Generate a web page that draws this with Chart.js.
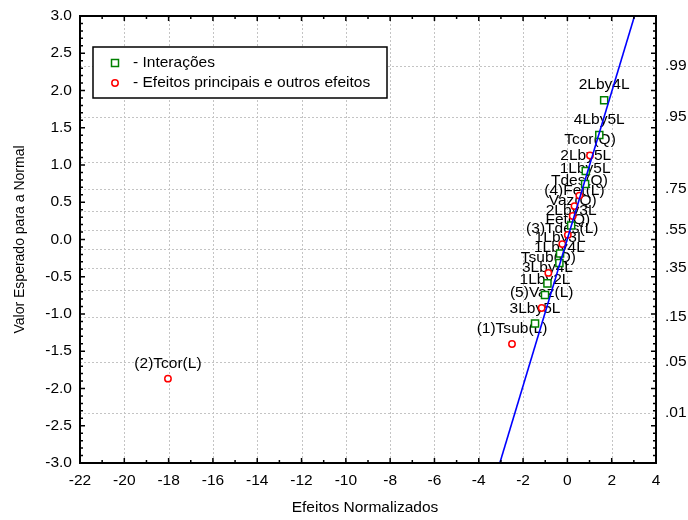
<!DOCTYPE html>
<html>
<head>
<meta charset="utf-8">
<script src="https://cdn.jsdelivr.net/npm/chart.js@4.4.1/dist/chart.umd.min.js"></script>
<style>
  html, body { margin: 0; padding: 0; background: #fff; }
  #wrap { width: 688px; height: 520px; }
</style>
</head>
<body>
<div id="wrap"><canvas id="c" width="688" height="520"></canvas></div>
<script>
// Interaction effects (green squares): standardized effect vs expected normal value
const interLabels = ['2Lby4L', '4Lby5L', '2Lby5L', '1Lby5L', '2Lby3L', '1Lby3L', '1Lby4L', '3Lby4L', '1Lby2L', '3Lby5L'];
const interX = [1.66, 1.44, 0.83, 0.80, 0.17, -0.33, -0.36, -0.90, -1.01, -1.46];
const interY = [1.868, 1.403, 0.919, 0.744, 0.187, -0.187, -0.315, -0.589, -0.744, -1.128];

// Main and other effects (red circles)
const mainLabels = ['Tcor(Q)', 'Tdes(Q)', '(4)Fet(L)', 'Vaz(Q)', 'Fet(Q)', '(3)Tdes(L)', 'Tsub(Q)', '(5)Vaz(L)', '(1)Tsub(L)', '(2)Tcor(L)'];
const mainX = [1.02, 0.54, 0.32, 0.24, 0.02, -0.23, -0.86, -1.16, -2.50, -18.03];
const mainY = [1.128, 0.589, 0.448, 0.315, 0.062, -0.062, -0.448, -0.919, -1.403, -1.868];

// Reference line (expected normal vs effect)
const refLineX = [-3.05, 3.03];
const refLineY = [-3.0, 3.0];

// Axis ranges and tick values
const xTicks = [-22, -20, -18, -16, -14, -12, -10, -8, -6, -4, -2, 0, 2, 4];
const yTicks = [-3.0, -2.5, -2.0, -1.5, -1.0, -0.5, 0.0, 0.5, 1.0, 1.5, 2.0, 2.5, 3.0];
// Cumulative probability levels on the right axis and their normal quantiles
const probLevels = ['.01', '.05', '.15', '.25', '.35', '.45', '.55', '.65', '.75', '.85', '.95', '.99'];
const probZ = [-2.3263, -1.6449, -1.0364, -0.6745, -0.3853, -0.1257, 0.1257, 0.3853, 0.6745, 1.0364, 1.6449, 2.3263];
const probShown = ['.01', '.05', '.15', '.35', '.55', '.75', '.95', '.99'];

const legendItems = ['- Interações', '- Efeitos principais e outros efeitos'];
const xTitle = 'Efeitos Normalizados';
const yTitle = 'Valor Esperado para a Normal';

const FAMILY = '"Liberation Sans", Arial, Helvetica, sans-serif';
const FONT_PX = 14.5;
const STRETCH = 1.07;
const FONT = FONT_PX + 'px ' + FAMILY;
const GREEN = '#008000', RED = '#ff0000', BLUE = '#0000ff';

function text(ctx, s, x, y, align) {
  ctx.save();
  ctx.translate(x, y);
  ctx.scale(STRETCH, 1);
  ctx.font = FONT;
  ctx.fillStyle = '#000';
  ctx.textAlign = align;
  ctx.textBaseline = 'middle';
  ctx.fillText(s, 0, 0);
  ctx.restore();
}

const toPts = (xs, ys) => xs.map((v, i) => ({ x: v, y: ys[i] }));

// Grid, point labels (under the marks)
const underlay = {
  id: 'underlay',
  beforeDatasetsDraw(chart) {
    const { ctx, chartArea: a, scales: { x, y } } = chart;
    ctx.save();
    ctx.strokeStyle = '#c4c4c4';
    ctx.lineWidth = 1;
    ctx.setLineDash([2, 2]);
    xTicks.forEach(v => {
      const px = Math.round(x.getPixelForValue(v)) + 0.5;
      ctx.beginPath(); ctx.moveTo(px, a.top); ctx.lineTo(px, a.bottom); ctx.stroke();
    });
    probZ.forEach(z => {
      const py = Math.round(y.getPixelForValue(z)) + 0.5;
      ctx.beginPath(); ctx.moveTo(a.left, py); ctx.lineTo(a.right, py); ctx.stroke();
    });
    ctx.restore();

    const lab = (ls, xs, ys) => ls.forEach((s, i) => {
      text(ctx, s, x.getPixelForValue(xs[i]), y.getPixelForValue(ys[i]) - 15, 'center');
    });
    lab(interLabels, interX, interY);
    lab(mainLabels, mainX, mainY);
  }
};

// Frame, ticks, tick labels, titles, legend
const overlay = {
  id: 'overlay',
  afterDraw(chart) {
    const { ctx, chartArea: a, scales: { x, y } } = chart;
    ctx.save();
    ctx.strokeStyle = '#000';
    ctx.lineWidth = 1.5;
    // minor/major ticks along x (inside, bottom and top)
    for (let v = -22; v <= 4; v += 1) {
      const px = x.getPixelForValue(v);
      const len = (v % 2 === 0) ? 5 : 3;
      ctx.beginPath();
      ctx.moveTo(px, a.bottom); ctx.lineTo(px, a.bottom - len);
      ctx.moveTo(px, a.top); ctx.lineTo(px, a.top + len);
      ctx.stroke();
    }
    // minor/major ticks along y (inside, left and right)
    for (let k = -30; k <= 30; k += 1) {
      const py = y.getPixelForValue(k / 10);
      const len = (k % 5 === 0) ? 5 : 3;
      ctx.beginPath();
      ctx.moveTo(a.left, py); ctx.lineTo(a.left + len, py);
      ctx.moveTo(a.right, py); ctx.lineTo(a.right - len, py);
      ctx.stroke();
    }
    // frame
    ctx.lineWidth = 2;
    ctx.strokeRect(a.left, a.top, a.right - a.left, a.bottom - a.top);
    ctx.restore();

    // tick labels
    xTicks.forEach(v => text(ctx, String(v), x.getPixelForValue(v), a.bottom + 18, 'center'));
    yTicks.forEach(v => text(ctx, v.toFixed(1), a.left - 8, y.getPixelForValue(v), 'right'));
    probLevels.forEach((p, i) => {
      if (probShown.includes(p)) text(ctx, p, a.right + 9, y.getPixelForValue(probZ[i]), 'left');
    });

    // axis titles
    text(ctx, xTitle, (a.left + a.right) / 2 - 3, 508, 'center');
    ctx.save();
    ctx.translate(20, (a.top + a.bottom) / 2);
    ctx.rotate(-Math.PI / 2);
    ctx.font = '14px ' + FAMILY;
    ctx.fillStyle = '#000';
    ctx.textAlign = 'center';
    ctx.textBaseline = 'middle';
    ctx.fillText(yTitle, 0, 0);
    ctx.restore();

    // legend box
    ctx.save();
    ctx.fillStyle = '#fff';
    ctx.fillRect(93, 47, 294, 51);
    ctx.strokeStyle = '#000';
    ctx.lineWidth = 1.5;
    ctx.strokeRect(93, 47, 294, 51);
    ctx.lineWidth = 1.5;
    ctx.strokeStyle = GREEN;
    ctx.strokeRect(111.5, 59.5, 7, 7);
    ctx.strokeStyle = RED;
    ctx.beginPath(); ctx.arc(115, 83, 3.2, 0, Math.PI * 2); ctx.stroke();
    ctx.restore();
    text(ctx, legendItems[0], 133, 63, 'left');
    text(ctx, legendItems[1], 133, 83, 'left');
  }
};

new Chart(document.getElementById('c'), {
  type: 'scatter',
  data: {
    datasets: [
      {
        type: 'line',
        label: 'ref',
        data: toPts(refLineX, refLineY),
        borderColor: BLUE,
        borderWidth: 1.6,
        pointRadius: 0,
        fill: false,
        tension: 0
      },
      {
        label: 'Interações',
        data: toPts(interX, interY),
        pointStyle: 'rect',
        pointRadius: 5,
        pointBorderWidth: 1.5,
        pointBorderColor: GREEN,
        pointBackgroundColor: '#fff',
        showLine: false
      },
      {
        label: 'Efeitos principais e outros efeitos',
        data: toPts(mainX, mainY),
        pointStyle: 'circle',
        pointRadius: 3.2,
        pointBorderWidth: 1.5,
        pointBorderColor: RED,
        pointBackgroundColor: '#fff',
        showLine: false
      }
    ]
  },
  options: {
    responsive: false,
    animation: false,
    devicePixelRatio: 1,
    layout: { padding: { top: 16, left: 0, right: 0, bottom: 0 } },
    plugins: { legend: { display: false }, tooltip: { enabled: false } },
    scales: {
      x: {
        type: 'linear', min: -22, max: 4,
        ticks: { display: false, stepSize: 2 },
        grid: { display: false },
        border: { display: false },
        afterFit(s) { s.height = 57; }
      },
      y: {
        type: 'linear', min: -3, max: 3,
        ticks: { display: false, stepSize: 0.5 },
        grid: { display: false },
        border: { display: false },
        afterFit(s) { s.width = 80; }
      },
      y2: {
        type: 'linear', position: 'right', min: -3, max: 3,
        ticks: { display: false },
        grid: { display: false },
        border: { display: false },
        afterFit(s) { s.width = 32; }
      }
    }
  },
  plugins: [underlay, overlay]
});
</script>
</body>
</html>
